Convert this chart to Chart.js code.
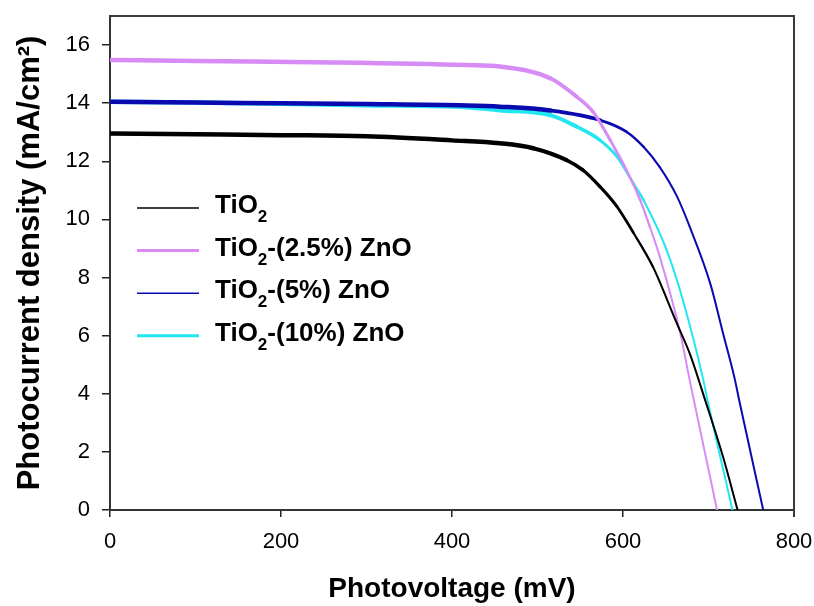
<!DOCTYPE html>
<html>
<head>
<meta charset="utf-8">
<script src="https://cdn.jsdelivr.net/npm/chart.js@4.4.0/dist/chart.umd.min.js"></script>
<style>
  html, body { margin: 0; padding: 0; background: #fff; }
</style>
</head>
<body>
<canvas id="jv" width="814" height="606"></canvas>
<script>
// series labels (the "2" after TiO is drawn as a subscript)
const seriesNames = ["TiO2", "TiO2-(2.5%) ZnO", "TiO2-(5%) ZnO", "TiO2-(10%) ZnO"];
const seriesColors = ["#000000", "#d68cf4", "#0a0ab0", "#22e6f2"];

// photovoltage (mV) / photocurrent density (mA/cm2)
const voltTiO2 = [0, 100, 200, 300, 400, 456, 495, 534, 553, 573, 593, 612, 635, 663, 678, 696, 717, 734];
const currTiO2 = [12.96, 12.93, 12.9, 12.86, 12.72, 12.62, 12.45, 12.04, 11.7, 11.13, 10.44, 9.55, 8.37, 6.42, 5.39, 3.79, 1.83, 0];

const volt25 = [0, 100, 261, 417, 456, 515, 546, 565, 585, 604, 620, 631, 643, 667, 678, 682, 710];
const curr25 = [15.49, 15.45, 15.4, 15.31, 15.26, 14.86, 14.22, 13.7, 12.73, 11.7, 10.67, 9.78, 8.72, 6.08, 4.47, 3.9, 0];

const volt5 = [0, 100, 200, 300, 417, 456, 515, 573, 604, 624, 643, 663, 678, 702, 717, 731, 735, 764];
const curr5 = [14.05, 14.02, 14.0, 13.97, 13.92, 13.88, 13.75, 13.42, 13.02, 12.5, 11.8, 10.8, 9.75, 7.8, 6.08, 4.47, 3.9, 0];

const volt10 = [0, 100, 200, 300, 417, 456, 515, 546, 573, 593, 612, 624, 651, 670, 694, 698, 728];
const curr10 = [14.05, 14.02, 13.98, 13.93, 13.86, 13.76, 13.59, 13.19, 12.73, 12.16, 11.25, 10.67, 8.95, 7.23, 4.47, 3.9, 0];

const xTicks = [0, 200, 400, 600, 800];
const yTicks = [0, 2, 4, 6, 8, 10, 12, 14, 16];

const volts = [voltTiO2, volt25, volt5, volt10];
const currs = [currTiO2, curr25, curr5, curr10];

const FONT = "'Liberation Sans', Arial, sans-serif";
const legendLineWidths = [1.5, 3, 1.5, 3];

// thick noisy plateau, tapering to a thin line on the falling part
function segWidth(ctx) {
  const x = (ctx.p0.parsed.x + ctx.p1.parsed.x) / 2;
  const t = Math.min(Math.max((640 - x) / 140, 0), 1);
  return 2 + 2.5 * t;
}

const datasets = seriesNames.map((name, i) => ({
  label: name,
  data: volts[i].map((v, k) => ({ x: v, y: currs[i][k] })),
  borderColor: seriesColors[i],
  backgroundColor: seriesColors[i],
  borderWidth: 2,
  borderCapStyle: "round",
  borderJoinStyle: "round",
  cubicInterpolationMode: "monotone",
  pointRadius: 0,
  fill: false,
  segment: { borderWidth: segWidth }
}));

// box round the plot
const framePlugin = {
  id: "frame",
  afterDraw(chart) {
    const { ctx, chartArea } = chart;
    ctx.save();
    ctx.strokeStyle = "#3a3a3a";
    ctx.lineWidth = 2;
    ctx.beginPath();
    ctx.moveTo(chartArea.left, chartArea.top);
    ctx.lineTo(chartArea.right, chartArea.top);
    ctx.lineTo(chartArea.right, chartArea.bottom + 7);
    ctx.stroke();
    ctx.restore();
  }
};

// legend inside the plot with TiO2 subscript
const legendPlugin = {
  id: "insideLegend",
  afterDraw(chart) {
    const { ctx, chartArea } = chart;
    const x0 = chartArea.left + 27;
    const textX = chartArea.left + 105;
    ctx.save();
    chart.data.datasets.forEach((ds, i) => {
      const base = 213 + i * 42.6;
      ctx.strokeStyle = ds.borderColor;
      ctx.lineWidth = legendLineWidths[i];
      ctx.beginPath();
      ctx.moveTo(x0, base - 5);
      ctx.lineTo(x0 + 62, base - 5);
      ctx.stroke();

      const rest = ds.label.slice(4);
      ctx.fillStyle = "#000";
      ctx.textBaseline = "alphabetic";
      ctx.textAlign = "left";
      ctx.font = "bold 26px " + FONT;
      ctx.fillText("TiO", textX, base);
      let x = textX + ctx.measureText("TiO").width;
      ctx.font = "bold 17px " + FONT;
      ctx.fillText("2", x, base + 9);
      x += ctx.measureText("2").width;
      ctx.font = "bold 26px " + FONT;
      ctx.fillText(rest, x, base);
    });
    ctx.restore();
  }
};

new Chart(document.getElementById("jv"), {
  type: "line",
  data: { datasets: datasets },
  options: {
    responsive: false,
    animation: false,
    devicePixelRatio: 1,
    layout: { padding: { top: 16, right: 20, left: 0, bottom: 0 } },
    plugins: {
      legend: { display: false },
      tooltip: { enabled: false }
    },
    scales: {
      x: {
        type: "linear",
        min: 0,
        max: 800,
        afterFit: (s) => { s.height = 96; s.paddingLeft = 0; s.paddingRight = 0; },
        afterBuildTicks: (s) => { s.ticks = xTicks.map(v => ({ value: v })); },
        ticks: { color: "#000", font: { family: FONT, size: 22 }, padding: 12 },
        grid: { drawOnChartArea: false, tickLength: 7, color: "#222", lineWidth: 1.5 },
        border: { display: true, color: "#333", width: 2 },
        title: {
          display: true,
          text: "Photovoltage (mV)",
          color: "#000",
          font: { family: FONT, size: 28, weight: "bold" },
          padding: { top: 0, bottom: 0 }
        }
      },
      y: {
        type: "linear",
        min: 0,
        max: 17,
        afterFit: (s) => { s.width = 110; s.paddingTop = 0; s.paddingBottom = 0; },
        afterBuildTicks: (s) => { s.ticks = yTicks.map(v => ({ value: v })); },
        ticks: { color: "#000", font: { family: FONT, size: 22 }, padding: 12 },
        grid: { drawOnChartArea: false, tickLength: 8, color: "#222", lineWidth: 1.5 },
        border: { display: true, color: "#333", width: 2 },
        title: {
          display: true,
          text: "Photocurrent density (mA/cm²)",
          color: "#000",
          font: { family: FONT, size: 31, weight: "bold" },
          padding: { top: 12, bottom: 0 }
        }
      }
    }
  },
  plugins: [framePlugin, legendPlugin]
});
</script>
</body>
</html>
